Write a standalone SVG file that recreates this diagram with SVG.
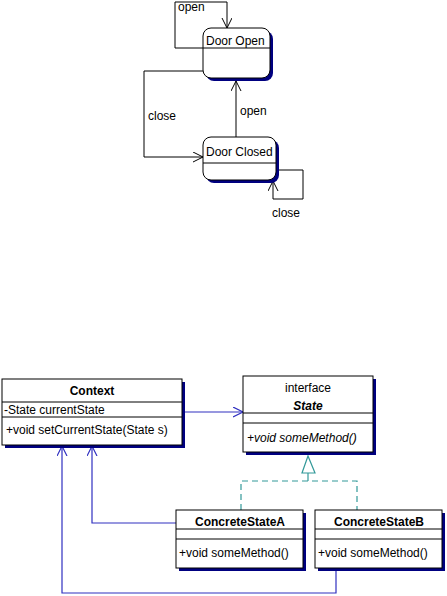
<svg xmlns="http://www.w3.org/2000/svg" width="447" height="596" viewBox="0 0 447 596">
<defs>
<style>
text{font-family:"Liberation Sans",Arial,sans-serif;font-size:12px;fill:#000}
.b{font-weight:bold}
.i{font-style:italic}
.st{fill:#fff;stroke:#000;stroke-width:1}
.sh{fill:#000080;stroke:none}
.ln{fill:none;stroke:#000;stroke-width:1}
.bl{fill:none;stroke:#3030c0;stroke-width:1.2}
.dash{fill:none;stroke:#339999;stroke-width:1.2;stroke-dasharray:6,4}
</style>
<marker id="ab" markerWidth="12" markerHeight="12" refX="10" refY="5" orient="auto" markerUnits="userSpaceOnUse">
<path d="M0,0 L10,5 L0,10" fill="none" stroke="#000" stroke-width="1"/>
</marker>
<marker id="abl" markerWidth="12" markerHeight="12" refX="10" refY="5" orient="auto" markerUnits="userSpaceOnUse">
<path d="M0,0 L10,5 L0,10" fill="none" stroke="#3030c0" stroke-width="1.2"/>
</marker>
</defs>
<rect width="447" height="596" fill="#fff"/>

<g id="connectors">
<polyline class="ln" points="203,48 175,48 175,2 227,2 227,28" marker-end="url(#ab)"/>
<polyline class="ln" points="203,71 144,71 144,157 203,157" marker-end="url(#ab)"/>
<line class="ln" x1="236" y1="137" x2="236" y2="81" marker-end="url(#ab)"/>
<polyline class="ln" points="279,170 303,170 303,199 273,199 273,181" marker-end="url(#ab)"/>
<line class="bl" x1="185" y1="412" x2="243" y2="412" marker-end="url(#abl)"/>
<polyline class="bl" points="176,523 92,523 92,446" marker-end="url(#abl)"/>
<polyline class="bl" points="336,569 336,593 62,593 62,446" marker-end="url(#abl)"/>
<polyline class="dash" points="241,510 241,481 357,481 357,510"/>
<line class="dash" x1="308" y1="481" x2="308" y2="473" style="stroke-dasharray:none"/>
<polygon points="308,456 302,473 315,473" fill="#fff" stroke="#339999" stroke-width="1.2"/>
</g>
<g id="labels">
<text x="178" y="11">open</text>
<text x="148" y="120">close</text>
<text x="240" y="115">open</text>
<text x="272" y="217">close</text>
</g>

<g id="door-open">
<rect class="sh" x="206" y="31" width="67" height="50" rx="8"/>
<rect class="st" x="203" y="28" width="67" height="50" rx="8"/>
<line class="ln" x1="203" y1="48" x2="270" y2="48"/>
<text x="206" y="45">Door Open</text>
</g>
<g id="door-closed">
<rect class="sh" x="206" y="140" width="73" height="43" rx="8"/>
<rect class="st" x="203" y="137" width="73" height="43" rx="8"/>
<line class="ln" x1="203" y1="163" x2="276" y2="163"/>
<text x="206" y="156">Door Closed</text>
</g>

<g id="context">
<rect class="sh" x="5" y="382" width="180" height="66"/>
<rect class="st" x="2" y="379" width="180" height="66"/>
<line class="ln" x1="2" y1="402" x2="182" y2="402"/>
<line class="ln" x1="2" y1="417" x2="182" y2="417"/>
<text class="b" x="92" y="395" text-anchor="middle">Context</text>
<text x="4" y="414">-State currentState</text>
<text x="6" y="434">+void setCurrentState(State s)</text>
</g>
<g id="state">
<rect class="sh" x="246" y="379" width="130" height="76"/>
<rect class="st" x="243" y="376" width="130" height="76"/>
<line class="ln" x1="243" y1="413" x2="373" y2="413"/>
<line class="ln" x1="243" y1="423" x2="373" y2="423"/>
<text x="308" y="392" text-anchor="middle">interface</text>
<text class="b i" x="308" y="410" text-anchor="middle">State</text>
<text class="i" x="247" y="442">+void someMethod()</text>
</g>
<g id="concrete-a">
<rect class="sh" x="179" y="513" width="127" height="58"/>
<rect class="st" x="176" y="510" width="127" height="58"/>
<line class="ln" x1="176" y1="529" x2="303" y2="529"/>
<line class="ln" x1="176" y1="539" x2="303" y2="539"/>
<text class="b" x="240" y="526" text-anchor="middle">ConcreteStateA</text>
<text x="179" y="557">+void someMethod()</text>
</g>
<g id="concrete-b">
<rect class="sh" x="318" y="513" width="127" height="58"/>
<rect class="st" x="315" y="510" width="127" height="58"/>
<line class="ln" x1="315" y1="529" x2="442" y2="529"/>
<line class="ln" x1="315" y1="539" x2="442" y2="539"/>
<text class="b" x="379" y="526" text-anchor="middle">ConcreteStateB</text>
<text x="318" y="557">+void someMethod()</text>
</g>
</svg>
